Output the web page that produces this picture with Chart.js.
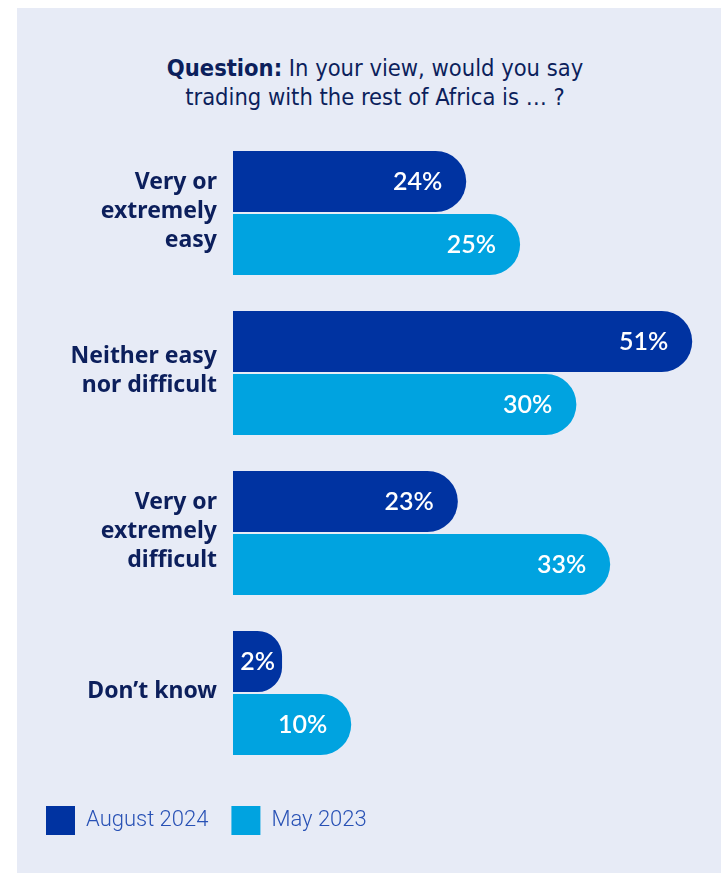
<!DOCTYPE html>
<html>
<head>
<meta charset="utf-8">
<script src="https://cdn.jsdelivr.net/npm/chart.js@4.4.1/dist/chart.umd.min.js"></script>
<style>
  html, body { margin: 0; padding: 0; background: #ffffff; overflow: hidden; }
  #panel { position: absolute; left: 17px; top: 8px; width: 704px; height: 865px; background: #e7ebf6; }
  #title {
    position: absolute; left: 75px; top: 54px; width: 600px; text-align: center;
    font-family: "Liberation Sans Narrow", "DejaVu Sans Condensed", sans-serif;
    font-size: 23.5px; line-height: 29px; color: #0c1f5c;
  }
  #title b { font-weight: 700; }
  #chart { position: absolute; left: 0; top: 0; }
</style>
</head>
<body>
<div id="panel"></div>
<div id="title"><b>Question:</b> In your view, would you say<br>trading with the rest of Africa is … ?</div>
<canvas id="chart" width="721" height="875"></canvas>
<script>
const categories = [
  ["Very or", "extremely", "easy"],
  ["Neither easy", "nor difficult"],
  ["Very or", "extremely", "difficult"],
  ["Don’t know"]
];
const seriesNames = ["August 2024", "May 2023"];
const aug2024 = [24, 51, 23, 2];
const may2023 = [25, 30, 33, 10];

const navy = "#0c1f5c";
const darkBlue = "#0033a1";
const lightBlue = "#00a3e0";

// white % labels inside the bar ends
const barLabels = {
  id: "barLabels",
  afterDatasetsDraw(chart) {
    const ctx = chart.ctx;
    ctx.save();
    ctx.font = "600 25px Lato";
    ctx.fillStyle = "#ffffff";
    ctx.textBaseline = "middle";
    chart.data.datasets.forEach((ds, i) => {
      chart.getDatasetMeta(i).data.forEach((bar, j) => {
        const txt = ds.data[j] + "%";
        const w = ctx.measureText(txt).width;
        let x = bar.x - 24;
        if (x - w < bar.base + 4) {
          ctx.textAlign = "center";
          x = (bar.x + bar.base) / 2;
        } else {
          ctx.textAlign = "right";
        }
        ctx.fillText(txt, x, bar.y);
      });
    });
    ctx.restore();
  }
};

new Chart(document.getElementById("chart"), {
  type: "bar",
  data: {
    labels: categories,
    datasets: [
      {
        label: seriesNames[0],
        data: aug2024,
        xAxisID: "x",
        base: -3.86,
        backgroundColor: darkBlue,
        borderWidth: 0,
        borderRadius: 31
      },
      {
        label: seriesNames[1],
        data: may2023,
        xAxisID: "x2",
        base: -0.5,
        backgroundColor: lightBlue,
        borderWidth: 0,
        borderRadius: 31
      }
    ]
  },
  options: {
    indexAxis: "y",
    responsive: false,
    animation: false,
    devicePixelRatio: 1,
    barPercentage: 0.968,
    categoryPercentage: 0.7875,
    layout: { padding: { top: 133, left: 23, right: 21, bottom: 30 } },
    scales: {
      x: { display: false, min: -3.86, max: 51.93 },
      x2: { display: false, min: -0.5, max: 40.98 },
      y: {
        grid: { display: false, drawTicks: false },
        border: { display: false },
        afterFit: (scale) => { scale.width = 210; },
        ticks: {
          padding: 16,
          labelOffset: -2,
          color: navy,
          font: { family: "'Noto Sans'", size: 23, weight: "700", lineHeight: "29px" }
        }
      }
    },
    plugins: {
      tooltip: { enabled: false },
      legend: {
        position: "bottom",
        align: "start",
        title: { display: true, text: "", padding: 0, font: { size: 10, lineHeight: 1 } },
        labels: {
          boxWidth: 29,
          boxHeight: 29,
          padding: 23,
          color: "#2851b5",
          font: { family: "Roboto", size: 22, weight: "300" }
        }
      }
    }
  },
  plugins: [barLabels]
});
</script>
</body>
</html>
